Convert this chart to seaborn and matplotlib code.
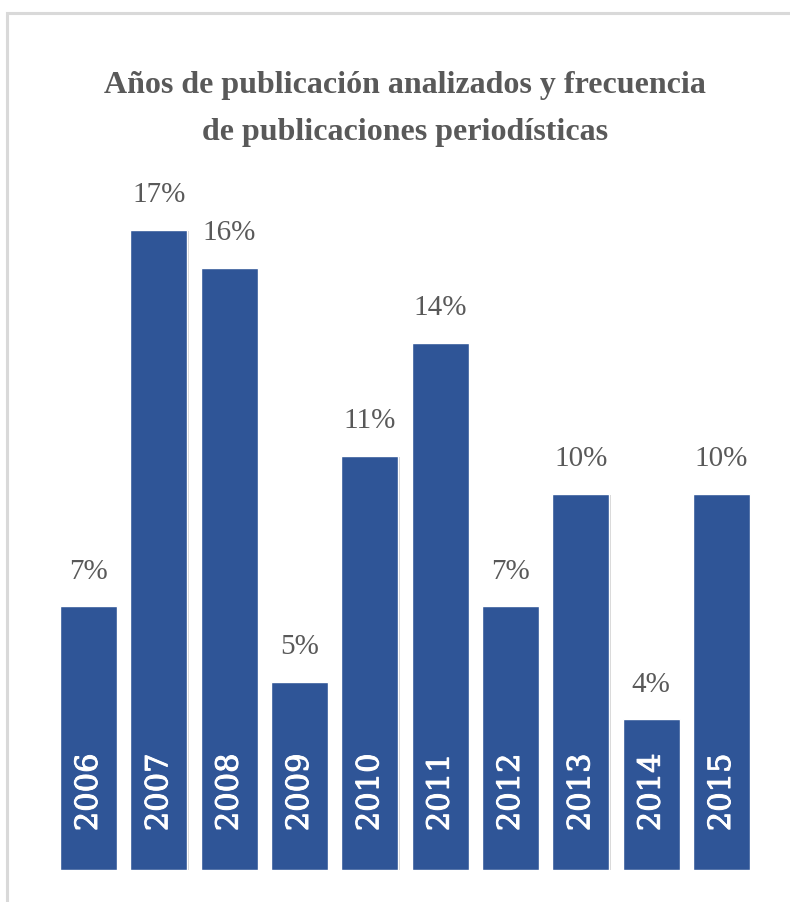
import matplotlib
matplotlib.use("Agg")
import matplotlib.pyplot as plt
import matplotlib.patheffects as pe
from matplotlib.patches import Rectangle
import pandas as pd
import seaborn as sns

# Publication years and their share of analysed press articles (%)
years = ["2006", "2007", "2008", "2009", "2010", "2011", "2012", "2013", "2014", "2015"]
shares = [7, 17, 16, 5, 11, 14, 7, 10, 4, 10]

title_lines = ["Años de publicación analizados y frecuencia",
               "de publicaciones periodísticas"]

bar_color = "#2F5597"
label_color = "#595959"

sns.set_theme(style="white")
plt.rcParams["font.family"] = ["Liberation Serif", "DejaVu Serif"]

df = pd.DataFrame({"year": years, "share": shares})

fig = plt.figure(figsize=(7.9, 9.03), dpi=100)
W, H = 790, 903

# outer chart frame (light grey), open towards the right and bottom edges
frame = Rectangle((7 / W, -0.05), 1.2, (H - 14) / H + 0.05,
                  transform=fig.transFigure, fill=False,
                  edgecolor="#d9d9d9", linewidth=2.2, zorder=0)
fig.patches.append(frame)

ax = fig.add_axes([53.3 / W, 32 / H, 703.4 / W, 677.7 / H])
sns.barplot(data=df, x="year", y="share", color=bar_color, saturation=1,
            width=0.81, ax=ax, zorder=3)

ax.set_xlim(-0.5, len(years) - 0.5)
ax.set_ylim(0, 18)
ax.axis("off")

shadow = [pe.SimplePatchShadow(offset=(1, -1), shadow_rgbFace="#7f7f7f", alpha=0.35),
          pe.Normal()]
year_stroke = [pe.withStroke(linewidth=0.7, foreground="white")]

for patch, yr, val in zip(ax.patches, years, shares):
    patch.set_path_effects(shadow)
    cx = patch.get_x() + patch.get_width() / 2
    top = patch.get_height()
    ax.text(cx, top + 0.6, f"{val}%", ha="center", va="bottom",
            fontsize=21, color=label_color, clip_on=False)
    ax.text(cx, 1.03, yr, ha="center", va="bottom", rotation=90,
            fontsize=22, color="white", family=["DejaVu Serif"],
            path_effects=year_stroke, clip_on=False, zorder=5)

fig.text(405 / W, 1 - 93 / H, title_lines[0], ha="center", va="baseline",
         fontsize=23, color=label_color, fontweight="bold")
fig.text(405 / W, 1 - 140 / H, title_lines[1], ha="center", va="baseline",
         fontsize=23, color=label_color, fontweight="bold")

fig.savefig("out.png", dpi=100, facecolor="white")
